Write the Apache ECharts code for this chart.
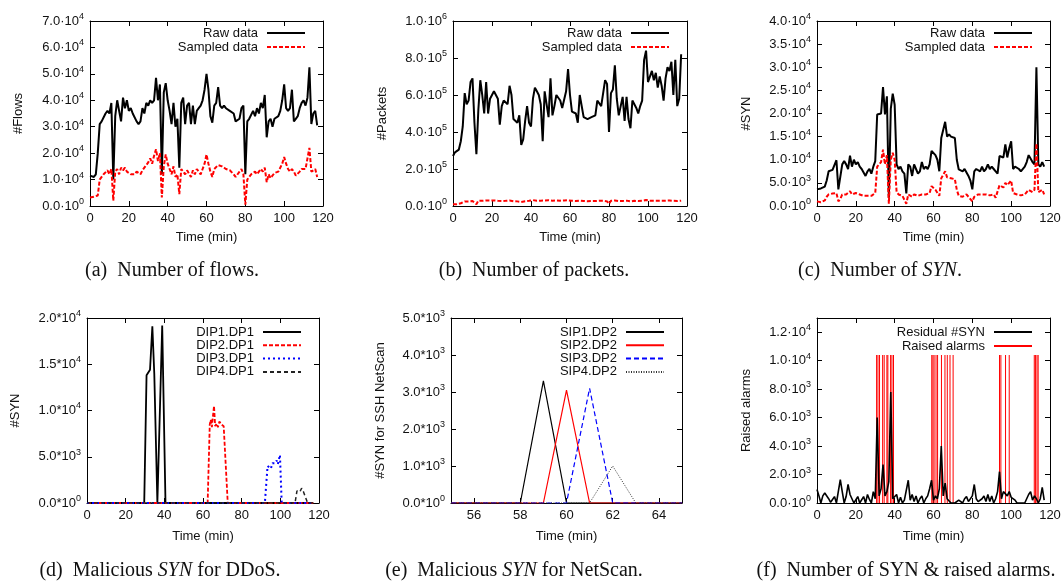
<!DOCTYPE html>
<html><head><meta charset="utf-8">
<script src="https://cdn.jsdelivr.net/npm/echarts@6/dist/echarts.min.js"></script>
<style>html,body{margin:0;padding:0;background:#fff}#c{width:1064px;height:582px}</style>
</head><body><div id="c"></div>
<script>
// ---------- data (values in thousands unless noted) ----------
const minutes = [...Array(118).keys()];
const flowsRaw = [
11.5,11,11,12,20,31,32,32,35,36,
35,39,10,34,40,36,32,41,37,40,
36,37,35,35,32,31,32,37,35,39,
38,40,39,40,48.5,40,46,12,43,46.5,
40,36,31,39,30,33,14.5,39,41,31,
38,39,31,38,31,36,37,38,40,44,
50,44,34,31.5,38,39,45,38,37,38,
37,37.5,36,36,35,32,32,33,37,38,
12,32,33,33,36,34,37,35,39,37,
42,26,32,33,30,33,33,34,36,40,
46,37,36,37,44,32,33,34,37,39,
40,38,41,52.5,31,35,36,30.5];
const flowsSampled = [
3.2,3.5,3.5,3.5,4,10,11,12,12.5,13.5,
12,14,2,13,14,12,14.5,13.5,14.5,13,
13,12,11.5,12,13,13,12,13.5,14.5,15,
16.5,18,16,19,21.5,17,20,3.2,15,19.5,
16,14,12,15,11,12,4.5,14,14.5,12,
13.5,13,11,13.5,12,14,13,12,14,16,
19.5,16,13,11,14,14,15.5,16,15,14.5,
14,14,13.5,13,12,11,11.5,13,14,12,
0.5,10,11,12,11.5,13,12,13,14,13,
14.5,9,12,10.5,11,12.5,12,13,13,16,
18.5,16,14,13,14,13,11.5,12,13,14,
14.5,14,14.5,22,13,13.5,14,11];
const packetsRaw = [
270,290,300,305,350,430,610,550,570,670,
690,450,280,520,680,600,500,670,500,580,
600,620,600,580,440,540,570,570,550,650,
600,470,470,450,490,330,360,460,540,450,
430,580,640,620,600,550,350,620,630,480,
690,490,540,600,610,570,530,540,620,740,
600,510,500,500,450,600,610,480,470,470,
480,480,480,490,570,570,540,550,680,660,
400,610,630,760,580,490,540,590,460,590,
470,420,570,570,530,500,540,570,790,840,
670,680,730,680,720,640,700,650,570,690,
750,730,780,600,790,540,580,820];
const packetsSampled = [
10,10,10,12,15,20,25,24,25,28,
27,20,10,28,30,28,27,30,28,29,
30,30,29,28,25,27,28,28,27,30,
29,26,26,25,27,22,12,26,27,28,
30,32,31,28,29,29,20,30,27,31,
31,28,28,30,30,29,28,30,33,31,
29,28,28,27,26,29,30,27,26,26,
27,27,27,27,28,28,28,28,30,25,
12,28,29,30,27,27,28,27,27,29,
27,25,28,28,26,27,27,28,30,32,
29,29,30,29,30,29,30,29,28,29,
30,30,31,28,30,27,28,29];
const synRaw = [
3.6,4.0,3.8,3.8,4.2,5.5,7.5,7.6,7.8,8.0,
9.9,3.6,3.6,9.0,9.7,9.0,8.0,10.9,8.5,10.0,
9.0,9.5,8.5,8.0,7.8,6.5,7.5,8.0,7.0,8.5,
9.7,19.8,20,20,25.7,19.8,23.7,1.8,21,24.3,
21.9,9.0,8.0,8.5,7.5,7.0,2.7,9.0,8.5,6.5,
9.0,8.0,7.0,7.5,9.5,8.0,8.5,8.0,9.0,11.9,
12.0,11.0,10.0,7.5,14.7,14.5,18.2,15.0,15.5,15.0,
15.0,14.7,10.0,7.9,7.5,7.5,8.0,8.0,6.5,5.5,
3.6,7.5,8.0,8.0,7.5,8.5,7.5,8.0,9.0,8.0,
8.5,8.0,7.5,7.0,10.8,11.0,10.5,13.3,10.5,12.5,
14.0,8.0,8.5,8.5,8.0,7.5,7.5,8.5,9.5,11.0,
11.0,9.5,9.0,30.0,9.0,8.5,9.5,8.5];
const synSampled = [
1.0,1.0,0.8,1.0,1.2,2.0,2.5,2.5,2.7,2.6,
2.8,1.0,1.5,2.5,2.8,2.5,2.2,3.2,2.5,2.9,
2.8,2.8,2.5,2.3,2.2,2.0,2.2,2.3,2.2,2.4,
2.8,8.5,9.0,9.5,12.2,9.0,11.0,0.5,10.0,11.5,
10.0,3.0,2.5,2.5,2.2,2.3,0.5,2.5,2.5,2.0,
2.5,2.5,2.2,2.2,2.5,2.3,2.5,2.2,2.8,4.3,
4.2,3.5,3.5,2.2,6.0,6.2,7.5,6.2,6.3,6.0,
6.2,5.8,3.5,2.2,2.0,2.0,2.2,2.5,2.0,1.8,
1.0,2.0,2.3,2.5,2.3,2.5,2.2,2.5,2.5,2.3,
2.2,2.5,1.8,2.0,4.5,4.5,4.0,5.0,4.5,5.0,
5.5,2.8,2.8,2.5,2.5,2.3,2.2,2.5,3.0,3.5,
3.2,3.0,3.5,13.5,3.0,3.0,3.5,2.5];
// (d) DDoS, times in minutes, values in SYN
const dip1T = [0,29.6,30.8,32.6,33.8,34.8,36.4,37.4,38.9,40.6,117];
const dip1V = [0,0,13800,14400,19100,14000,0,0,19200,0,0];
const dip2T = [0,62.4,63.5,64.0,64.6,65.2,65.7,66.3,67.0,67.7,68.5,69.5,70.7,72.8,117];
const dip2V = [0,0,8500,9000,8200,9500,10500,8300,8600,8200,8800,8500,8300,0,0];
const dip3T = [0,92.0,93.4,94.3,95.1,95.9,97.3,98.1,98.7,99.8,100.7,117];
const dip3V = [0,0,4000,4000,3700,4300,4300,4600,4200,5200,0,0];
const dip4T = [0,107.6,108.6,109.3,110.1,111.0,112.0,113.0,114.1,117];
const dip4V = [0,0,1300,1500,1200,1600,1200,1000,0,0];
// (e) NetScan
const sipT  = [55,58,59,60,61,62,63,65];
const sip1V = [0,0,3300,0,0,0,0,0];
const sip2V = [0,0,0,3050,0,0,0,0];
const sip3V = [0,0,0,0,3100,0,0,0];
const sip4V = [0,0,0,0,0,1000,0,0];
const sipTicks = [56,58,60,62,64];
// (f) residual (thousands) and alarms
const residual = [
0.95,0.5,0,0.5,0.7,0.8,0.3,0.05,0.25,0.45,
0,0.05,1.65,0.8,0,0.45,1.3,0.6,0.7,0,
0.1,0.45,0,0.1,0.45,0,0.6,0.25,0,0.8,
0.3,6.0,0.5,1.0,2.7,0.5,0.8,1.5,7.8,0.3,
0.2,0.6,0,0.4,0,0.2,0.2,1.6,0.2,0.6,
0.1,0.5,0,0.3,0.5,0,0.3,0.5,1.0,1.6,
0.2,0.5,0.3,1.0,4.0,0.5,1.4,0.3,0.2,0,
0.1,0,0,0.2,0.1,0,0.3,0.45,0.1,0,
0.5,1.3,0.3,0.1,0,0.3,0.5,0.1,0.6,0.1,
0.5,0,0.3,0.8,2.2,0.3,0.8,0.8,0.5,0.8,
0.4,0.5,0.2,0,0.1,0,0.1,0,0.3,0.6,
0.8,0.2,0.5,0.3,0,0.3,1.1,0.2];
const alarmTimes = [30.7,31.4,32.2,33.8,34.6,36.0,36.5,37.9,38.6,39.4,
  59.1,59.7,60.3,61.3,62.1,64.1,65.9,67.1,68.5,70.1,
  94.0,94.7,97.1,99.0,111.9,112.5,113.3,113.9];
const alarmLevel = 10400;
const yTicksF = [0,2000,4000,6000,8000,10000,12000];

// ---------- helpers ----------
const FONT = "'Liberation Sans', Arial, Helvetica, sans-serif";
const SERIF = "'Liberation Serif', 'Times New Roman', serif";
const TXT = '#111';
const pairs = (xs, ys, k) => ys.map((v, i) => [xs[i], v * k]);
function sci(sep) {
  return function (v) {
    if (v === 0) return '{b|0.0' + sep + '10}{s|0}';
    const e = Math.floor(Math.log10(v) + 1e-9);
    const m = (v / Math.pow(10, e)).toFixed(1);
    return '{b|' + m + sep + '10}{s|' + e + '}';
  };
}
const rich = {
  b: {fontSize: 13, lineHeight: 18, fontFamily: FONT, color: TXT},
  s: {fontSize: 9, lineHeight: 8, verticalAlign: 'top', fontFamily: FONT, color: TXT}
};

const grids = [
  {left: 90, top: 21, width: 233, height: 185},
  {left: 453, top: 21, width: 234, height: 185},
  {left: 817, top: 21, width: 233, height: 185},
  {left: 87, top: 318, width: 232, height: 185},
  {left: 451, top: 318, width: 231, height: 185},
  {left: 817, top: 318, width: 233, height: 185}
];
const axesCfg = [
  {xMin: 0, xMax: 120, xInt: 20, yMax: 70000, yInt: 10000, sep: '·', yName: '#Flows', yGap: 65, xGap: 25},
  {xMin: 0, xMax: 120, xInt: 20, yMax: 1000000, yInt: 200000, sep: '·', yName: '#Packets', yGap: 64, xGap: 25},
  {xMin: 0, xMax: 120, xInt: 20, yMax: 40000, yInt: 5000, sep: '·', yName: '#SYN', yGap: 64, xGap: 25},
  {xMin: 0, xMax: 120, xInt: 20, yMax: 20000, yInt: 5000, sep: '*', yName: '#SYN', yGap: 65, xGap: 27},
  {xMin: 55, xMax: 65, xTicks: sipTicks, yMax: 5000, yInt: 1000, sep: '*', yName: '#SYN for SSH NetScan', yGap: 64, xGap: 27},
  {xMin: 0, xMax: 120, xInt: 20, yMax: 13000, yTicks: yTicksF, sep: '·', yName: 'Raised alarms', yGap: 64, xGap: 27}
];

const xAxis = [], yAxis = [];
axesCfg.forEach((c, i) => {
  ['bottom', 'top'].forEach(pos => {
    const main = pos === 'bottom';
    const ax = {
      type: 'value', gridIndex: i, position: pos, min: c.xMin, max: c.xMax,
      axisLine: {show: true, onZero: false, lineStyle: {color: '#000', width: 1}},
      axisTick: {show: true, inside: true, length: 5, lineStyle: {color: '#000', width: 1}},
      axisLabel: {show: main, margin: 6, fontSize: 13, color: TXT, fontFamily: FONT},
      splitLine: {show: false}
    };
    if (c.xInt) ax.interval = c.xInt;
    if (c.xTicks) { ax.axisTick.customValues = c.xTicks; ax.axisLabel.customValues = c.xTicks; }
    if (main) {
      ax.name = 'Time (min)'; ax.nameLocation = 'middle'; ax.nameGap = c.xGap;
      ax.nameTextStyle = {fontSize: 13, color: TXT, fontFamily: FONT};
    }
    xAxis.push(ax);
  });
  ['left', 'right'].forEach(pos => {
    const main = pos === 'left';
    const ay = {
      type: 'value', gridIndex: i, position: pos, min: 0, max: c.yMax,
      axisLine: {show: true, onZero: false, lineStyle: {color: '#000', width: 1}},
      axisTick: {show: true, inside: true, length: 5, lineStyle: {color: '#000', width: 1}},
      axisLabel: {show: main, margin: 6, formatter: sci(c.sep), rich: rich},
      splitLine: {show: false}
    };
    if (c.yInt) ay.interval = c.yInt;
    if (c.yTicks) { ay.axisTick.customValues = c.yTicks; ay.axisLabel.customValues = c.yTicks; }
    if (main) {
      ay.name = c.yName; ay.nameLocation = 'middle'; ay.nameGap = c.yGap;
      ay.nameTextStyle = {fontSize: 13, color: TXT, fontFamily: FONT};
    }
    yAxis.push(ay);
  });
});

function line(name, gi, data, color, width, type, z) {
  return {
    type: 'line', name: name, xAxisIndex: 2 * gi, yAxisIndex: 2 * gi, data: data,
    symbol: 'none', showSymbol: false, connectNulls: false, z: z || 2,
    lineStyle: {color: color, width: width, type: type || 'solid'},
    itemStyle: {color: color}, emphasis: {disabled: true}
  };
}
const alarmData = [];
alarmTimes.forEach(t => { alarmData.push([t, 0], [t, alarmLevel], [t, null]); });

const series = [
  line('Raw data', 0, pairs(minutes, flowsRaw, 1000), '#000', 2),
  line('Sampled data', 0, pairs(minutes, flowsSampled, 1000), '#f00', 2, [4, 2]),
  line('Raw data', 1, pairs(minutes, packetsRaw, 1000), '#000', 2),
  line('Sampled data', 1, pairs(minutes, packetsSampled, 1000), '#f00', 2, [4, 2]),
  line('Raw data', 2, pairs(minutes, synRaw, 1000), '#000', 2),
  line('Sampled data', 2, pairs(minutes, synSampled, 1000), '#f00', 2, [4, 2]),
  line('DIP1.DP1', 3, pairs(dip1T, dip1V, 1), '#000', 1.8),
  line('DIP2.DP1', 3, pairs(dip2T, dip2V, 1), '#f00', 1.8, [4, 2]),
  line('DIP3.DP1', 3, pairs(dip3T, dip3V, 1), '#00f', 2, [2, 3]),
  line('DIP4.DP1', 3, pairs(dip4T, dip4V, 1), '#222', 1.5, [4, 3]),
  line('SIP1.DP2', 4, pairs(sipT, sip1V, 1), '#000', 1.2),
  line('SIP2.DP2', 4, pairs(sipT, sip2V, 1), '#f00', 1.2),
  line('SIP3.DP2', 4, pairs(sipT, sip3V, 1), '#00f', 1.2, [5, 3]),
  line('SIP4.DP2', 4, pairs(sipT, sip4V, 1), '#333', 1, [1, 1.5]),
  line('Raised alarms', 5, alarmData, '#f00', 1, 'solid', 1),
  line('Residual #SYN', 5, pairs(minutes, residual, 1000), '#000', 1.6, 'solid', 3)
];

function legend(names, right, top, gap) {
  return {
    orient: 'vertical', align: 'right', right: right, top: top, padding: 0,
    itemGap: gap, itemWidth: 38, itemHeight: 10, data: names, selectedMode: false,
    itemStyle: {opacity: 0, borderWidth: 0},
    textStyle: {fontSize: 13, color: TXT, fontFamily: FONT, lineHeight: 14, padding: [0, 4, 0, 0]}
  };
}
const legendNames = {
  a: ['Raw data', 'Sampled data'],
  d: ['DIP1.DP1', 'DIP2.DP1', 'DIP3.DP1', 'DIP4.DP1'],
  e: ['SIP1.DP2', 'SIP2.DP2', 'SIP3.DP2', 'SIP4.DP2'],
  f: ['Residual #SYN', 'Raised alarms']
};
const legends = [
  legend(legendNames.a, 758, 26, 0),
  legend(legendNames.a, 394, 26, 0),
  legend(legendNames.a, 31, 26, 0),
  legend(legendNames.d, 762, 325, -0.7),
  legend(legendNames.e, 399, 325, -0.7),
  legend(legendNames.f, 31, 325, 0)
];

const captions = [
  {x: 172, y: 271, text: '(a)  Number of flows.'},
  {x: 534, y: 271, text: '(b)  Number of packets.'},
  {x: 880, y: 271, text: '(c)  Number of {i|SYN}.'},
  {x: 160, y: 571, text: '(d)  Malicious {i|SYN} for DDoS.'},
  {x: 514, y: 571, text: '(e)  Malicious {i|SYN} for NetScan.'},
  {x: 906, y: 571, text: '(f)  Number of SYN & raised alarms.'}
];
const graphic = captions.map(c => ({
  type: 'text', x: c.x, y: c.y, silent: true,
  style: {
    text: c.text, fontSize: 20, fontFamily: SERIF, fill: '#111',
    align: 'center', verticalAlign: 'middle',
    rich: {i: {fontSize: 20, fontFamily: SERIF, fontStyle: 'italic', fill: '#111', color: '#111'}}
  }
}));

const chart = echarts.init(document.getElementById('c'), null, {renderer: 'canvas'});
chart.setOption({
  animation: false,
  backgroundColor: '#fff',
  grid: grids.map(g => Object.assign({containLabel: false, outerBoundsMode: 'none', show: false}, g)),
  xAxis: xAxis, yAxis: yAxis, series: series, legend: legends, graphic: graphic
});
</script></body></html>
